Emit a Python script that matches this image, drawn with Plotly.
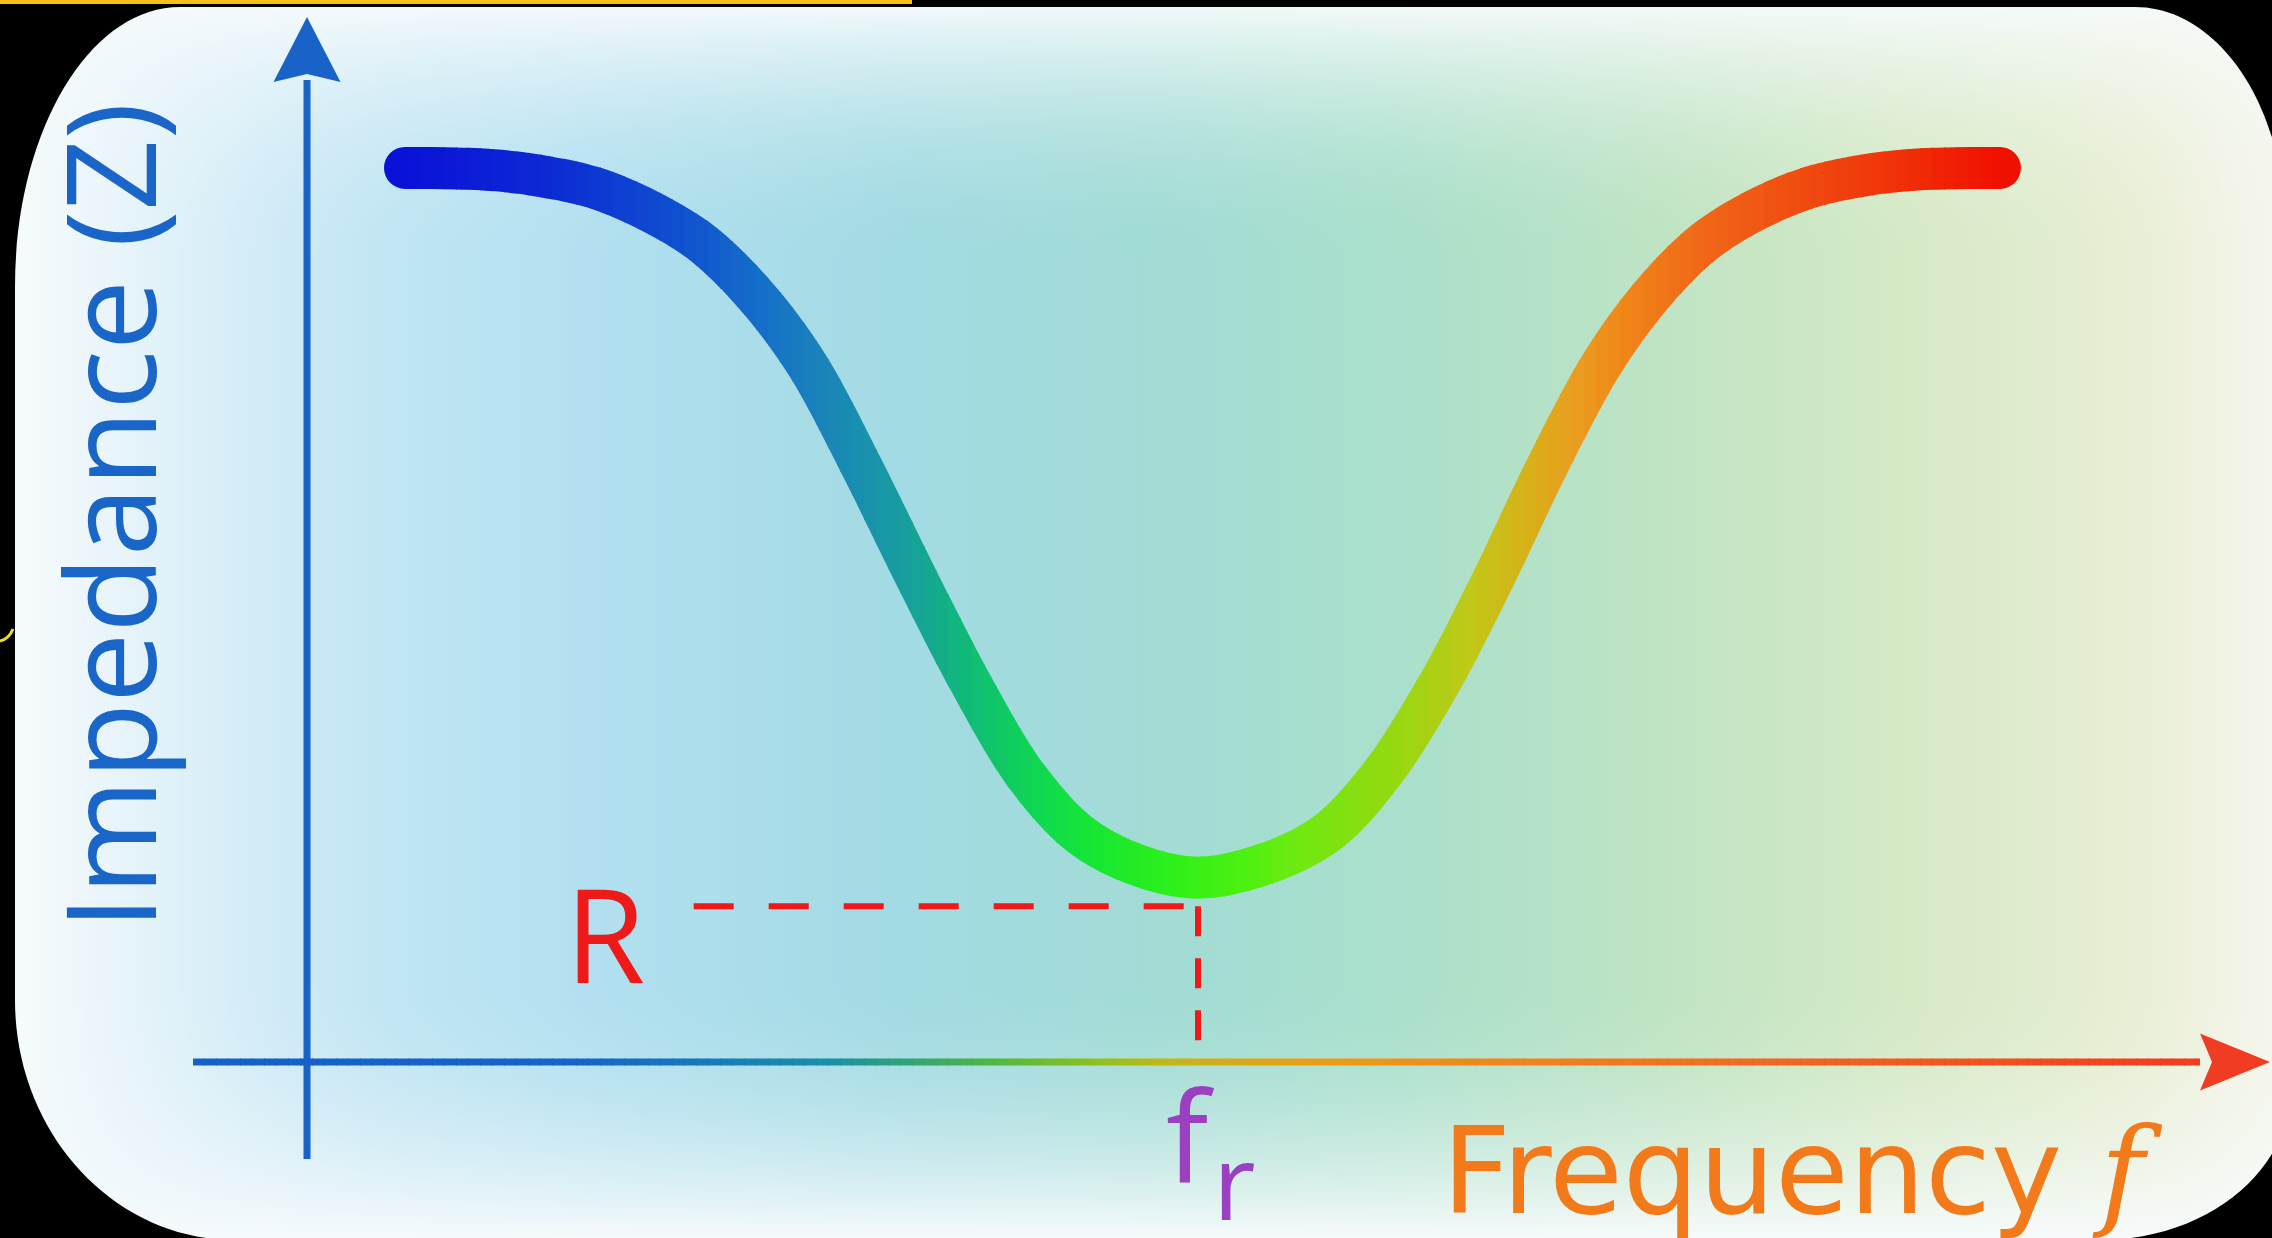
import base64
import struct
import zlib

import numpy as np
import plotly.graph_objects as go

W, H = 2272, 1238

# Impedance of a series RLC circuit against frequency (arbitrary units, resonance at f = 5)
freq = [0.55, 1.01, 1.31, 1.61, 1.91, 2.21, 2.51, 2.81, 3.11, 3.42, 3.72, 4.02, 4.32, 4.62, 5.00,
        5.40, 5.73, 6.04, 6.36, 6.66, 6.96, 7.26, 7.55, 7.84, 8.13, 8.43, 8.72, 9.02, 9.50]
impedance = [9.99, 9.97, 9.90, 9.77, 9.52, 9.16, 8.58, 7.78, 6.66, 5.41, 4.25, 3.24, 2.57, 2.23, 2.06,
             2.23, 2.57, 3.24, 4.25, 5.41, 6.66, 7.78, 8.58, 9.16, 9.52, 9.77, 9.90, 9.97, 9.99]
f_res = 5.0           # resonant frequency f_r
R = 1.74              # resistance: minimum impedance level
r_guide_start = 2.17  # where the dashed R guide begins

x_title = 'Frequency <span style="font-family:DejaVu Serif"><i>f</i></span>'
y_title = "Impedance (Z)"
FONT = "Open Sans"
LINE_W = 42

# ---- page geometry: pixel position of the origin and scale of each axis ----
ORIGIN_X, ORIGIN_Y = 307, 1062
PX_F, PX_Z = 178.2, 89.5
x_range = [-ORIGIN_X / PX_F, (W - ORIGIN_X) / PX_F]
y_range = [-(H - ORIGIN_Y) / PX_Z, ORIGIN_Y / PX_Z]


def f_at(px):
    return (px - ORIGIN_X) / PX_F


def z_at(py):
    return (ORIGIN_Y - py) / PX_Z


def hex_rgb(h):
    return [int(h[i:i + 2], 16) for i in (1, 3, 5)]


def ramp(stops, px):
    xs = [s[0] for s in stops]
    cs = np.array([hex_rgb(s[1]) for s in stops], float)
    return "rgb(%d,%d,%d)" % tuple(int(round(np.interp(px, xs, cs[:, i]))) for i in range(3))


CURVE_STOPS = [(406, "#0a12d8"), (550, "#0c2ad4"), (680, "#1050d0"), (760, "#156ec8"), (830, "#1a86b8"),
               (880, "#1896a8"), (930, "#14a890"), (980, "#10c070"), (1040, "#10d850"), (1100, "#18e830"),
               (1180, "#30f018"), (1250, "#50f010"), (1300, "#70e810"), (1400, "#98d810"), (1470, "#c0c818"),
               (1530, "#d8b018"), (1570, "#e8a020"), (1620, "#f08818"), (1700, "#f06818"), (1800, "#f04c10"),
               (1900, "#f03008"), (2000, "#f01000")]
AXIS_STOPS = [(190, "#1660c8"), (580, "#1664c8"), (830, "#1890a8"), (995, "#50b840"), (1100, "#90c020"),
              (1160, "#c0b818"), (1300, "#e8a018"), (1550, "#f08020"), (1850, "#f06020"), (2150, "#f04020"),
              (2272, "#f03a20")]
BG_STOPS = [(0, "#def0fa"), (300, "#c8e8f6"), (600, "#b2e0f0"), (900, "#a3dbe4"), (1150, "#a2dcd6"),
            (1400, "#aae0cc"), (1650, "#bee4c4"), (1900, "#d6eac6"), (2100, "#e6eed2"), (2272, "#f2f2de")]


# ---- soft background panel as an inline PNG ----
def png_uri(rgb):
    h, w, _ = rgb.shape
    raw = b"".join(b"\x00" + rgb[i].tobytes() for i in range(h))

    def chunk(tag, data):
        return struct.pack(">I", len(data)) + tag + data + struct.pack(">I", zlib.crc32(tag + data) & 0xFFFFFFFF)

    png = (b"\x89PNG\r\n\x1a\n" + chunk(b"IHDR", struct.pack(">IIBBBBB", w, h, 8, 2, 0, 0, 0))
           + chunk(b"IDAT", zlib.compress(raw, 9)) + chunk(b"IEND", b""))
    return "data:image/png;base64," + base64.b64encode(png).decode()


def background():
    sw, sh = W // 4, H // 4
    xs = (np.arange(sw) + 0.5) * W / sw
    ys = (np.arange(sh) + 0.5) * H / sh
    bx = [s[0] for s in BG_STOPS]
    bc = np.array([hex_rgb(s[1]) for s in BG_STOPS], float)
    base = np.stack([np.interp(xs, bx, bc[:, i]) for i in range(3)], -1)
    X, Y = np.meshgrid(xs, ys)
    wl = np.clip(1 - (X - 15) / 420, 0, 1) ** 2
    wt = np.clip(1 - Y / 260, 0, 1) ** 2
    wb = np.clip(1 - (H - Y) / 260, 0, 1) ** 2
    wr = 0.6 * np.clip(1 - (2290 - X) / 220, 0, 1) ** 2
    w = 1 - (1 - wl) * (1 - wt) * (1 - wb) * (1 - wr)
    white = np.array([247, 251, 252], float)
    img = base[None, :, :] * (1 - w[..., None]) + white * w[..., None]
    return png_uri(np.clip(img, 0, 255).astype(np.uint8))


def pp(x, y):
    return "%.5f,%.5f" % (x / W, 1 - y / H)


def frame_path():
    L, T = 15, 7
    k = 0.5523
    # (rx, ry) of each rounded corner of the panel
    tl, tr, br, bl = (165, 280), (150, 220), (190, 150), (220, 240)
    R_tr, R_br, B = 2285, 2290, 1240
    p = "M%s L%s L%s L%s Z " % (pp(-10, -10), pp(W + 10, -10), pp(W + 10, H + 10), pp(-10, H + 10))
    p += "M" + pp(L + tl[0], T)
    p += " L" + pp(R_tr - tr[0], T)
    p += " C%s %s %s" % (pp(R_tr - tr[0] + k * tr[0], T), pp(R_tr, T + tr[1] - k * tr[1]), pp(R_tr, T + tr[1]))
    p += " L" + pp(R_br, B - br[1])
    p += " C%s %s %s" % (pp(R_br, B - br[1] + k * br[1]), pp(R_br - br[0] + k * br[0], B), pp(R_br - br[0], B))
    p += " L" + pp(L + bl[0], B)
    p += " C%s %s %s" % (pp(L + bl[0] - k * bl[0], B), pp(L, B - bl[1] + k * bl[1]), pp(L, B - bl[1]))
    p += " L" + pp(L, T + tl[1])
    p += " C%s %s %s" % (pp(L, T + tl[1] - k * tl[1]), pp(L + tl[0] - k * tl[0], T), pp(L + tl[0], T))
    p += " Z"
    return p


fig = go.Figure()
layout = dict(
    width=W, height=H, autosize=False, margin=dict(l=0, r=0, t=0, b=0, pad=0),
    paper_bgcolor="black", plot_bgcolor="rgba(0,0,0,0)", showlegend=False,
    xaxis=dict(range=x_range, domain=[0, 1], visible=False, fixedrange=True),
    yaxis=dict(range=y_range, domain=[0, 1], visible=False, fixedrange=True, anchor="x"),
)

# axis extents (in axis units)
xa_lo, xa_hi, xa_tip = f_at(193), f_at(2200), f_at(2270)
ya_lo, ya_hi, ya_tip = z_at(1159), z_at(80), z_at(17)

# vertical impedance axis
fig.add_trace(go.Scatter(x=[0, 0], y=[ya_lo, ya_hi], mode="lines", line=dict(color="#1862c8", width=7),
                         hoverinfo="skip"))
# dashed guides at R and f_r
fig.add_trace(go.Scatter(x=[r_guide_start, f_res], y=[R, R], mode="lines",
                         line=dict(color="#f01818", width=6, dash="40px,35px"), hoverinfo="skip"))
fig.add_trace(go.Scatter(x=[f_res, f_res], y=[R, 0], mode="lines",
                         line=dict(color="#f01818", width=6, dash="30px,22px"), hoverinfo="skip"))
# rounded ends of the curve
end_px = [ORIGIN_X + freq[0] * PX_F, ORIGIN_X + freq[-1] * PX_F]
fig.add_trace(go.Scatter(x=[freq[0], freq[-1]], y=[impedance[0], impedance[-1]], mode="markers",
                         marker=dict(size=LINE_W, color=[ramp(CURVE_STOPS, p) for p in end_px],
                                     line=dict(width=0)),
                         hoverinfo="skip"))

# colour-graded curve and frequency axis: the same data drawn in narrow clipped vertical bands
STRIP = 12
curve_lo, curve_hi = end_px
for k, a in enumerate(range(180, 2208, STRIP), start=2):
    b = min(a + STRIP + 1, W)
    layout["xaxis%d" % k] = dict(domain=[a / W, b / W], range=[f_at(a), f_at(b)], visible=False,
                                 anchor="y", fixedrange=True)
    mid = a + STRIP / 2
    if b > curve_lo and a < curve_hi:
        fig.add_trace(go.Scatter(x=freq, y=impedance, mode="lines", xaxis="x%d" % k, yaxis="y",
                                 line=dict(color=ramp(CURVE_STOPS, mid), width=LINE_W, shape="spline",
                                           smoothing=1, simplify=False),
                                 hoverinfo="skip"))
    if b > 193 and a < 2202:
        fig.add_trace(go.Scatter(x=[xa_lo, xa_hi], y=[0, 0], mode="lines", xaxis="x%d" % k, yaxis="y",
                                 line=dict(color=ramp(AXIS_STOPS, mid), width=7, simplify=False),
                                 hoverinfo="skip"))

zh = 28.5 / PX_Z
fh = 33.5 / PX_F
shapes = [
    dict(type="path", path=frame_path(), xref="paper", yref="paper", fillcolor="black",
         line=dict(width=0), layer="below", fillrule="evenodd"),
    dict(type="rect", xref="paper", yref="paper", x0=0, x1=912 / W, y0=1 - 4 / H, y1=1.01,
         fillcolor="#f5c018", line=dict(width=0), layer="below"),
    dict(type="path", xref="paper", yref="paper", path="M%s Q%s %s" % (pp(0, 641), pp(9, 639), pp(13, 629)),
         line=dict(color="#e8e020", width=3), layer="below"),
    # arrow heads
    dict(type="path", xref="x", yref="y", fillcolor="#1862c8", line=dict(width=0), layer="above",
         path="M%f,%f L0,%f L%f,%f L0,%f Z" % (-fh, z_at(82), ya_tip, fh, z_at(82), z_at(74))),
    dict(type="path", xref="x", yref="y", fillcolor="#f03c22", line=dict(width=0), layer="above",
         path="M%f,%f L%f,0 L%f,%f L%f,0 Z" % (f_at(2200), zh, xa_tip, f_at(2200), -zh, f_at(2212))),
]

annotations = [
    dict(text=y_title, xref="paper", yref="paper", x=107 / W, y=1 - 516 / H, textangle=-90,
         xanchor="center", yanchor="middle", showarrow=False, font=dict(family=FONT, size=125, color="#1a66c8")),
    dict(text=x_title, xref="paper", yref="paper", x=1440 / W, y=1 - 1171 / H, xanchor="left",
         yanchor="middle", showarrow=False, font=dict(family="DejaVu Sans", size=120, color="#f27a1a")),
    dict(text="R", xref="x", yref="y", x=f_at(605), y=R, yshift=-26, xanchor="center", yanchor="middle",
         showarrow=False, font=dict(family=FONT, size=130, color="#ee1a1a")),
    # f_r written as a letter f with a subscript r below the resonance guide
    dict(text="f", xref="x", yref="y", x=f_res, y=0, xshift=-34, yshift=-72, xanchor="left",
         yanchor="middle", showarrow=False, font=dict(family=FONT, size=126, color="#9a40c0")),
    dict(text="r", xref="x", yref="y", x=f_res, y=0, xshift=13, yshift=-117, xanchor="left",
         yanchor="middle", showarrow=False, font=dict(family=FONT, size=104, color="#9a40c0")),
]

layout["shapes"] = shapes
layout["annotations"] = annotations
layout["images"] = [dict(source=background(), xref="paper", yref="paper", x=0, y=1, sizex=1, sizey=1,
                         xanchor="left", yanchor="top", sizing="stretch", layer="below")]
fig.update_layout(**layout)
fig.write_html("out.html", config={"displayModeBar": False, "staticPlot": True})
